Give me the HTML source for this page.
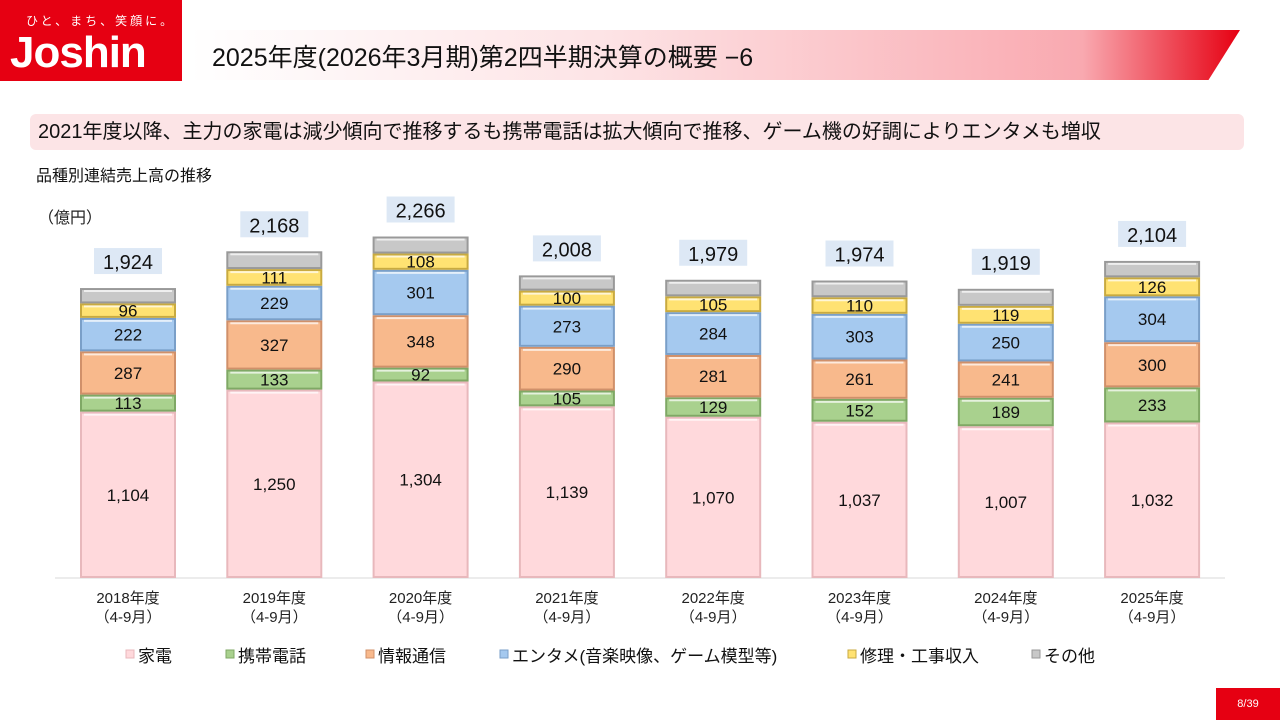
<!DOCTYPE html>
<html><head><meta charset="utf-8">
<style>
body{margin:0;width:1280px;height:720px;overflow:hidden;background:#fff;font-family:"Liberation Sans","Noto Sans CJK JP",sans-serif;position:relative}
.logo{position:absolute;left:0;top:0;width:182px;height:81px;background:#e60012;color:#fff}
.logo .tag{position:absolute;left:26px;top:12px;font-size:12px;letter-spacing:3px}
.logo .nm{position:absolute;left:10px;top:28px;font-size:44px;font-weight:bold;letter-spacing:-1px}
.title{position:absolute;left:190px;top:30px;width:1050px;height:50px;background:linear-gradient(90deg,#fff 0%,#fde3e5 40%,#f9a9b0 85%,#e60012 100%);clip-path:polygon(0 0,100% 0,97% 100%,0 100%);box-shadow:0 3px 3px #aaa}
.title span{position:absolute;left:22px;top:8px;font-size:25px;color:#111}
.sub{position:absolute;left:30px;top:114px;width:1214px;height:36px;background:#fce4e6;border-radius:6px;font-size:20px;line-height:36px;padding-left:8px;box-sizing:border-box;color:#111}
.cap{position:absolute;left:36px;top:162px;font-size:16px;color:#111}
.unit{position:absolute;left:38px;top:204px;font-size:16px;color:#222}
.page{position:absolute;right:0;bottom:0;width:64px;height:32px;background:#e60012;color:#fff;font-size:11px;text-align:center;line-height:32px}
svg{position:absolute;left:0;top:0}
</style></head><body>
<div class="logo"><div class="tag">ひと、まち、笑顔に。</div><div class="nm">Joshin</div></div>
<div class="title"><span>2025年度(2026年3月期)第2四半期決算の概要 −6</span></div>
<div class="sub">2021年度以降、主力の家電は減少傾向で推移するも携帯電話は拡大傾向で推移、ゲーム機の好調によりエンタメも増収</div>
<div class="cap">品種別連結売上高の推移</div>
<div class="unit">（億円）</div>
<svg id="chart" width="1280" height="720"></svg>
<div class="page">8/39</div>
<script>
const categories=["2018年度","2019年度","2020年度","2021年度","2022年度","2023年度","2024年度","2025年度"];
const seriesNames=["家電","携帯電話","情報通信","エンタメ(音楽映像、ゲーム模型等)","修理・工事収入","その他"];
const kaden=[1104,1250,1304,1139,1070,1037,1007,1032];
const keitai=[113,133,92,105,129,152,189,233];
const joho=[287,327,348,290,281,261,241,300];
const enta=[222,229,301,273,284,303,250,304];
const shuri=[96,111,108,100,105,110,119,126];
const totals=[1924,2168,2266,2008,1979,1974,1919,2104];
const series=[kaden,keitai,joho,enta,shuri];
const fills=["#ffd9dc","#a9d18e","#f8b98c","#a5c9ef","#ffe272","#c8c8c8"];
const strokes=["#e8b8bc","#7fa865","#d0906a","#7a9fc8","#c8aa40","#999"];
const base=578,k=0.1507,x0=128,step=146.3,bw=96;
const y=v=>base-v*k, xc=i=>x0+i*step;
const svg=document.getElementById('chart');const NS="http://www.w3.org/2000/svg";
function mk(t,a){const e=document.createElementNS(NS,t);for(const n in a)e.setAttribute(n,a[n]);svg.appendChild(e);return e;}
const ax=mk('line',{x1:55,x2:1225,y1:base,y2:base,stroke:'#d9d9d9'});


categories.forEach((c,i)=>{
  let acc=0;
  const vals=series.map(s=>s[i]);
  vals.push(totals[i]-vals.reduce((a,b)=>a+b,0));
  vals.forEach((v,j)=>{
    const y1=y(acc+v),h=v*k;acc+=v;
    const r=mk('rect',{x:xc(i)-bw/2+1,y:y1+1,width:bw-2,height:Math.max(h-2,1),fill:fills[j],stroke:strokes[j],'stroke-width':2});
    
    
    const hl=mk('line',{x1:xc(i)-bw/2+4,x2:xc(i)+bw/2-4,y1:y1+3,y2:y1+3,stroke:'#fff','stroke-opacity':0.7,'stroke-width':2});
    
    
    if(j<5){
      const t=mk('text',{x:xc(i),y:y1+h/2+6,'text-anchor':'middle','font-size':17,fill:'#111'});
      t.textContent=v.toLocaleString('en-US');
      
      
    }
  });
  const ty=y(totals[i])-12;
  const bg=mk('rect',{x:xc(i)-34,y:ty-28,width:68,height:26,fill:'#dde8f5'});
  
  
  const tt=mk('text',{x:xc(i),y:ty-7,'text-anchor':'middle','font-size':20,fill:'#111'});
  tt.textContent=totals[i].toLocaleString('en-US');
  
  
  const l1=mk('text',{x:xc(i),y:603,'text-anchor':'middle','font-size':15,fill:'#222'});
  l1.textContent=c;
  
  
  const l2=mk('text',{x:xc(i),y:622,'text-anchor':'middle','font-size':15,fill:'#222'});
  l2.textContent='（4-9月）';
  
  
});
const lx=[126,226,366,500,848,1032];
seriesNames.forEach((n,j)=>{
  const r=mk('rect',{x:lx[j],y:650,width:8,height:8,fill:fills[j],stroke:strokes[j]});
  
  
  const t=mk('text',{x:lx[j]+12,y:662,'font-size':17,fill:'#111'});
  t.textContent=n;
  
  
});
</script>
</body></html>
